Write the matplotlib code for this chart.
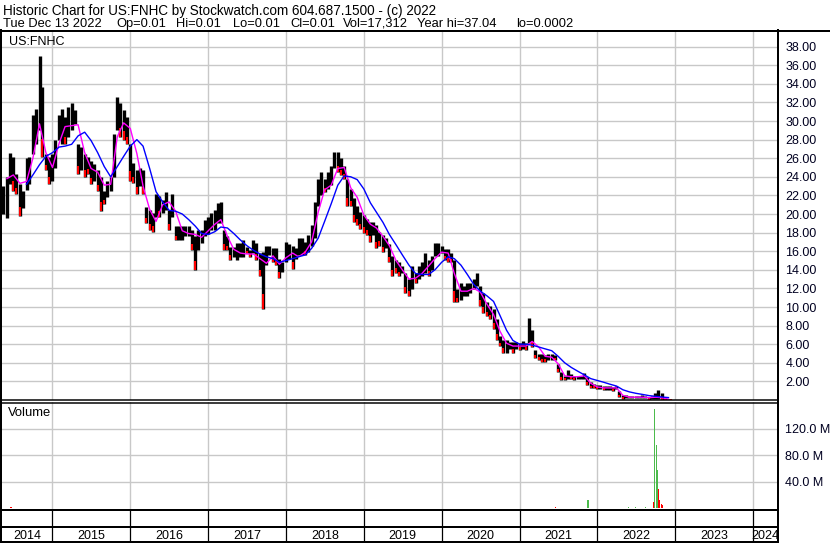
import matplotlib
matplotlib.use("Agg")
import matplotlib.pyplot as plt
import matplotlib.dates as mdates
from matplotlib.lines import Line2D
import numpy as np
import pandas as pd
from datetime import datetime

plt.rcParams['font.family'] = ['Liberation Sans', 'DejaVu Sans']

# ---------------- data ----------------
# semi-monthly price bars (high / low), starting 2014-05-15
high_2014 = [23.0, 24.0, 26.6, 26.1, 24.3, 23.2, 22.5, 26.0, 26.1, 30.6, 31.3, 37.0, 33.7, 26.5, 26.1]
low_2014 = [20.0, 19.6, 23.2, 22.5, 22.1, 19.8, 20.7, 22.6, 23.2, 26.5, 27.5, 29.0, 26.1, 24.7, 23.2]
high_2015 = [26.5, 28.0, 30.6, 31.3, 30.4, 31.5, 31.9, 31.2, 27.5, 27.2, 26.5, 26.1,
             25.7, 25.4, 24.7, 24.0, 22.5, 23.6, 24.0, 28.6, 32.6, 31.9, 31.2, 30.4]
low_2015 = [23.5, 25.0, 28.0, 27.5, 27.5, 28.3, 29.0, 29.7, 24.3, 24.7, 24.0, 24.3,
            23.2, 23.6, 22.5, 20.3, 21.1, 21.8, 22.5, 24.0, 29.0, 28.3, 28.0, 27.5]
high_2016 = [27.5, 25.5, 24.7, 25.0, 24.7, 20.8, 20.4, 20.1, 22.2, 21.9, 21.5, 22.4,
             20.4, 22.2, 18.7, 18.7, 18.7, 18.7, 18.7, 18.3, 17.6, 18.3, 18.3, 19.4]
low_2016 = [23.5, 23.3, 22.2, 23.0, 22.2, 19.0, 18.3, 18.1, 19.7, 19.7, 20.1, 20.4,
            18.3, 19.7, 17.2, 17.2, 17.2, 17.6, 17.6, 16.1, 14.0, 16.1, 16.9, 17.6]
high_2017 = [19.7, 20.1, 20.4, 21.2, 21.3, 18.3, 17.6, 16.5, 16.5, 16.9, 16.9, 17.2,
             16.5, 16.1, 17.2, 16.9, 15.8, 15.9, 16.6, 16.6, 16.3, 16.3, 15.2, 14.8]
low_2017 = [17.9, 18.3, 18.3, 19.0, 19.0, 16.1, 16.1, 15.1, 15.4, 15.1, 15.4, 15.4,
            15.8, 15.4, 15.8, 15.1, 13.3, 9.8, 14.5, 15.6, 14.8, 14.5, 13.1, 13.8]
high_2018 = [17.0, 16.8, 16.6, 16.3, 17.4, 17.4, 17.0, 17.7, 18.8, 21.3, 23.8, 24.5,
             23.8, 24.5, 25.2, 26.7, 26.7, 26.0, 25.2, 23.8, 22.7, 21.7, 20.9, 20.2]
low_2018 = [14.8, 15.2, 14.1, 15.2, 15.6, 15.6, 15.6, 15.9, 16.6, 17.4, 20.9, 22.0,
            22.4, 22.7, 23.1, 24.9, 24.5, 24.2, 23.8, 20.9, 20.9, 19.1, 18.8, 18.4]
high_2019 = [19.9, 19.5, 19.1, 19.1, 18.8, 18.1, 17.7, 17.4, 16.8, 15.5, 15.1, 14.8,
             14.4, 13.7, 13.0, 14.4, 13.7, 14.4, 14.8, 15.8, 15.1, 15.5, 16.9, 16.9]
low_2019 = [18.0, 17.7, 17.0, 17.7, 16.3, 16.6, 15.9, 16.3, 14.8, 13.3, 13.7, 13.3,
            13.7, 11.5, 11.2, 11.9, 12.6, 13.0, 13.3, 13.7, 13.3, 14.0, 15.5, 15.5]
high_2020 = [16.6, 16.2, 16.2, 15.8, 15.1, 11.9, 12.6, 12.3, 12.6, 12.6, 13.0, 13.7,
             12.3, 11.5, 10.5, 10.1, 9.8, 8.7, 6.9, 6.5, 6.5, 6.2, 6.2, 6.2]
low_2020 = [15.8, 15.1, 14.8, 14.8, 10.5, 10.5, 10.8, 11.2, 11.2, 11.5, 11.9, 12.3,
            10.1, 9.4, 9.0, 8.7, 7.6, 6.5, 5.8, 5.1, 5.1, 5.5, 5.1, 5.5]
high_2021 = [6.1, 6.3, 6.1, 8.8, 7.5, 5.4, 5.0, 5.0, 4.8, 5.0, 5.0, 4.8,
             3.9, 3.0, 2.6, 3.2, 2.8, 2.6, 2.6, 2.6, 2.9, 2.5, 1.9, 1.7]
low_2021 = [5.4, 5.5, 5.4, 6.1, 5.7, 4.5, 4.3, 4.1, 4.1, 4.3, 4.3, 4.3,
            3.0, 2.1, 2.1, 2.3, 2.3, 2.1, 2.3, 2.3, 2.3, 1.6, 1.3, 1.3]
high_2022 = [1.6, 1.6, 1.5, 1.5, 1.5, 1.4, 1.5, 1.0, 0.5, 0.5, 0.4, 0.4,
             0.4, 0.4, 0.5, 0.4, 0.3, 0.4, 0.7, 1.1, 0.7, 0.2, 0.1, 0.05]
low_2022 = [1.2, 1.2, 1.1, 1.1, 1.1, 1.0, 1.2, 0.3, 0.1, 0.2, 0.2, 0.2,
            0.2, 0.2, 0.2, 0.2, 0.05, 0.1, 0.1, 0.1, 0.05, 0.02, 0.01, 0.01]

# monthly moving averages (month starts from 2014-06)
ma_short = [23.8, 24.2, 23.3, 23.5, 26.0, 29.7, 26.6,
            25.0, 27.6, 29.4, 29.5, 29.6, 26.6, 24.9, 24.5, 23.1, 23.2, 28.3, 29.8,
            29.2, 26.5, 23.0, 20.5, 19.2, 21.0, 21.3, 20.3, 18.2, 17.9, 17.8, 17.5,
            18.2, 18.9, 19.4, 17.6, 16.2, 15.8, 15.7, 15.7, 15.2, 14.7, 15.5, 14.6,
            15.3, 15.8, 15.4, 15.9, 17.0, 20.2, 22.6, 23.1, 24.9, 25.0, 22.8, 21.8,
            19.9, 18.9, 18.5, 17.6, 16.6, 15.0, 14.0, 13.0, 13.1, 13.6, 14.4, 15.2,
            15.9, 15.8, 13.6, 11.7, 11.7, 12.0, 11.6, 10.3, 9.2, 7.4, 6.1, 5.8,
            5.8, 5.8, 6.3, 5.7, 4.7, 4.6, 3.9, 2.6, 2.5, 2.5, 2.6, 1.8,
            1.4, 1.3, 1.3, 1.3, 0.5, 0.3, 0.3, 0.3, 0.25, 0.3, 0.25, 0.08]
ma_long = [np.nan, np.nan, np.nan, 23.2, 24.2, 25.3, 26.2,
           26.6, 27.2, 27.3, 27.5, 28.4, 28.8, 27.9, 26.6, 25.1, 24.0, 25.1, 26.2,
           27.3, 28.0, 27.3, 24.9, 22.4, 21.3, 20.4, 20.3, 20.0, 19.4, 18.7, 17.9,
           17.8, 18.1, 18.6, 18.5, 17.9, 17.2, 16.6, 16.1, 15.7, 15.4, 15.2, 14.8,
           15.0, 15.2, 15.4, 15.6, 16.3, 17.4, 19.2, 21.1, 23.1, 24.1, 24.0, 23.7,
           22.7, 21.2, 20.2, 19.1, 17.8, 16.7, 15.6, 14.5, 13.6, 13.5, 13.5, 14.0,
           14.8, 15.4, 15.2, 14.5, 13.5, 12.4, 11.7, 11.2, 10.6, 9.1, 7.5, 6.4,
           6.0, 6.0, 5.9, 5.7, 5.5, 5.3, 4.7, 4.0, 3.5, 3.1, 2.7, 2.3,
           2.1, 1.9, 1.7, 1.5, 1.1, 0.87, 0.72, 0.6, 0.47, 0.4, 0.32, 0.26]

# volume (millions of shares); only visible bars
vol_dates = ['2014-06-20', '2021-06-20', '2021-11-18', '2022-05-26', '2022-06-28',
             '2022-08-15', '2022-09-22', '2022-09-28', '2022-10-05', '2022-10-12',
             '2022-10-15', '2022-10-21', '2022-10-28', '2022-11-03']
vol_values = [1.5, 1.5, 12, 2, 2, 2, 9, 149, 95, 57, 29, 12, 6, 4]
vol_up = [False, False, True, True, True, True, False, True, True, True,
          False, False, False, False]

price_ticks = [2, 4, 6, 8, 10, 12, 14, 16, 18, 20, 22, 24, 26, 28, 30, 32, 34, 36, 38]
vol_ticks = [40, 80, 120]
years = list(range(2014, 2025))

header1 = "Historic Chart for US:FNHC by Stockwatch.com 604.687.1500 - (c) 2022"
header2_fields = ["Tue Dec 13 2022", "Op=0.01", "Hi=0.01", "Lo=0.01", "Cl=0.01",
                  "Vol=17,312", "Year hi=37.04", "lo=0.0002"]
symbol = "US:FNHC"

# ---------------- figure ----------------
W, H = 830, 543
FS = 9.0
FSH1 = 9.75
FSH2 = 9.3
GRID = '#c8c8c8'
fig = plt.figure(figsize=(W / 100, H / 100), dpi=100)
fig.patch.set_facecolor('white')


def rect(x0, y0, x1, y1):
    return [x0 / W, 1 - y1 / H, (x1 - x0) / W, (y1 - y0) / H]


def hline(y, x0, x1, lw=2):
    fig.add_artist(Line2D([x0 / W, x1 / W], [1 - y / H, 1 - y / H],
                          transform=fig.transFigure, color='black', lw=lw * 0.72))


def vline(x, y0, y1, lw=2):
    fig.add_artist(Line2D([x / W, x / W], [1 - y0 / H, 1 - y1 / H],
                          transform=fig.transFigure, color='black', lw=lw * 0.72))


xmin, xmax = datetime(2014, 5, 9), datetime(2024, 4, 28)

axp = fig.add_axes(rect(2, 31, 778, 400))
axv = fig.add_axes(rect(2, 402, 778, 510))
axb = fig.add_axes(rect(2, 510, 778, 543))

for ax in (axp, axv, axb):
    ax.set_xlim(xmin, xmax)
    for s in ax.spines.values():
        s.set_visible(False)
    ax.xaxis.set_major_locator(mdates.YearLocator())
    ax.tick_params(axis='x', length=0, labelbottom=False)

# price panel
high = np.array(high_2014 + high_2015 + high_2016 + high_2017 + high_2018 +
                high_2019 + high_2020 + high_2021 + high_2022)
low = np.array(low_2014 + low_2015 + low_2016 + low_2017 + low_2018 +
               low_2019 + low_2020 + low_2021 + low_2022)
bar_dates = pd.date_range('2014-05-15', periods=len(high), freq='SMS')

axp.set_ylim(0, 39.68)
axp.set_yticks(price_ticks)
axp.set_yticklabels([f"{v:.2f}" for v in price_ticks])
axp.yaxis.tick_right()
axp.tick_params(axis='y', length=0, pad=5.3, labelsize=FS, labelcolor='#000020')
axp.grid(True, color=GRID, lw=1.0, zorder=0)
axp.set_axisbelow(True)

axp.vlines(bar_dates, low, high, color='black', lw=2.4, zorder=2)
mid = (high + low) / 2
down = np.r_[False, mid[1:] < mid[:-1]]
axp.vlines(bar_dates[down], low[down], low[down] + 0.25 * (high[down] - low[down]) + 0.1,
           color='#ff0000', lw=1.5, zorder=3)

ma_dates = pd.date_range('2014-06-01', periods=len(ma_short), freq='MS')
axp.plot(ma_dates, ma_short, color='#ff00ff', lw=1.0, zorder=4)
axp.plot(ma_dates, ma_long, color='#0000ff', lw=1.0, zorder=5)

# volume panel
axv.set_ylim(-3, 160)
axv.set_yticks(vol_ticks)
axv.set_yticklabels([f"{v:.1f} M" for v in vol_ticks])
axv.yaxis.tick_right()
axv.tick_params(axis='y', length=0, pad=5.3, labelsize=FS, labelcolor='#000020')
axv.grid(True, color=GRID, lw=1.0, zorder=0)
axv.set_axisbelow(True)
vd = pd.to_datetime(vol_dates)
cols = ['#4cbb4c' if u else '#ff0000' for u in vol_up]
axv.bar(vd, vol_values, width=6, color=cols, zorder=3)

# bottom year strip
axb.set_ylim(0, 1)
axb.set_yticks([])
axb.axis('off')
for y in years:
    d0 = max(datetime(y, 1, 1), xmin)
    d1 = min(datetime(y + 1, 1, 1), xmax)
    if datetime(y, 1, 1) > xmin:
        axb.plot([datetime(y, 1, 1)] * 2, [0, 1], color='black', lw=0.9, clip_on=False)
    midd = d0 + (d1 - d0) / 2
    axb.text(midd, 0.22, str(y), ha='center', va='center', fontsize=FS)

# frame lines
hline(30.5, 0, W)
vline(1, 30, H)
vline(778, 30, H)
hline(400, 0, 778, lw=1.5)
hline(402.5, 0, 778, lw=1.5)
hline(510, 0, 778)
hline(527, 0, 778)
hline(542, 0, 778)

# texts
fig.text(3 / W, 1 - 11 / H, header1, fontsize=FSH1, va='center', ha='left')
header2_x = [3, 116, 176, 233, 290, 343, 417, 516]
for hx, txt in zip(header2_x, header2_fields):
    fig.text(hx / W, 1 - 24 / H, txt, fontsize=FSH2, va='center', ha='left')
fig.text(9 / W, 1 - 42 / H, symbol, fontsize=FS, va='center', ha='left')
fig.text(8 / W, 1 - 413 / H, "Volume", fontsize=9.4, va='center', ha='left')

fig.savefig('out.png', dpi=100, facecolor='white')
